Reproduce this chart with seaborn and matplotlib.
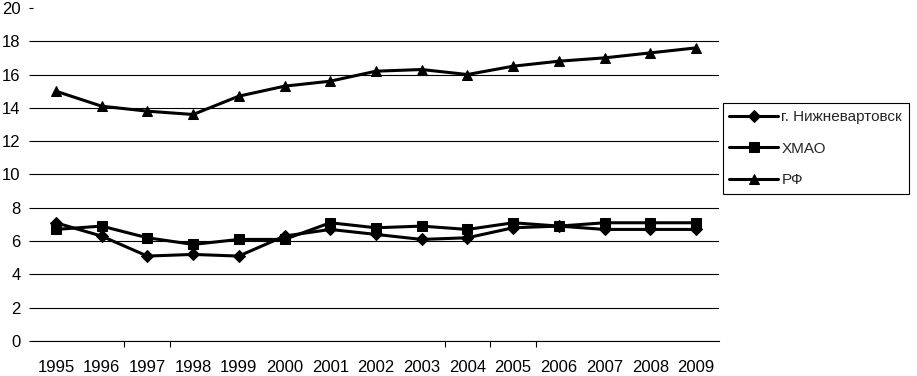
import pandas as pd
import matplotlib
matplotlib.use("Agg")
import matplotlib.pyplot as plt
import seaborn as sns

# Data
years = ["1995", "1996", "1997", "1998", "1999", "2000", "2001", "2002",
         "2003", "2004", "2005", "2006", "2007", "2008", "2009"]
nizhnevartovsk = [7.1, 6.3, 5.1, 5.2, 5.1, 6.3, 6.7, 6.4, 6.1, 6.2, 6.8, 6.9, 6.7, 6.7, 6.7]
hmao = [6.7, 6.9, 6.2, 5.8, 6.1, 6.1, 7.1, 6.8, 6.9, 6.7, 7.1, 6.9, 7.1, 7.1, 7.1]
rf = [15.0, 14.1, 13.8, 13.6, 14.7, 15.3, 15.6, 16.2, 16.3, 16.0, 16.5, 16.8, 17.0, 17.3, 17.6]
series_names = ["г. Нижневартовск", "ХМАО", "РФ"]

df = pd.DataFrame({
    "pos": list(range(len(years))) * 3,
    "value": nizhnevartovsk + hmao + rf,
    "series": [s for s in series_names for _ in years],
})

sns.set_style("white")
plt.rcParams["font.family"] = ["Liberation Sans", "DejaVu Sans"]

fig = plt.figure(figsize=(9.17, 3.76), dpi=100)
ax = fig.add_axes([0.036, 0.093, 0.748, 0.886])

sns.lineplot(data=df, x="pos", y="value", hue="series", style="series",
             hue_order=series_names, style_order=series_names,
             palette=["black"] * 3, markers=["D", "s", "^"], dashes=False,
             linewidth=2.2, markersize=6.5, markeredgecolor="black", ax=ax)

ax.set_xlim(-0.5, len(years) - 0.5)
ax.set_ylim(0, 20)
ax.set_yticks(range(0, 21, 2))
ax.set_xticks(range(len(years)))
ax.set_xticklabels(years)
ax.set_xticks([1.5, 2.5, 8.5, 9.5, 10.5], minor=True)
ax.set_xlabel("")
ax.set_ylabel("")

ax.yaxis.grid(True, color="black", linewidth=0.8)
ax.get_ygridlines()[-1].set_visible(False)
ax.set_axisbelow(True)

for side in ["top", "right", "left"]:
    ax.spines[side].set_visible(False)
ax.spines["bottom"].set_color("black")
ax.spines["bottom"].set_linewidth(0.8)

ax.tick_params(axis="y", left=True, length=3, width=0.8, color="black",
               pad=6, labelsize=12, labelcolor="black")
ax.tick_params(axis="x", which="major", bottom=False, length=0, pad=14,
               labelsize=12, labelcolor="black")
ax.tick_params(axis="x", which="minor", bottom=True, length=4, width=0.8,
               color="black")

handles, labels = ax.get_legend_handles_labels()
ax.legend(handles, labels, loc="center left", bbox_to_anchor=(0.788, 0.605),
          bbox_transform=fig.transFigure, frameon=True, fancybox=False,
          edgecolor="black", framealpha=1, fontsize=11, handlelength=3.2,
          handletextpad=0.2, labelspacing=1.15, borderpad=0.45,
          borderaxespad=0)
ax.get_legend().get_frame().set_linewidth(0.8)

fig.savefig("out.png", dpi=100)
